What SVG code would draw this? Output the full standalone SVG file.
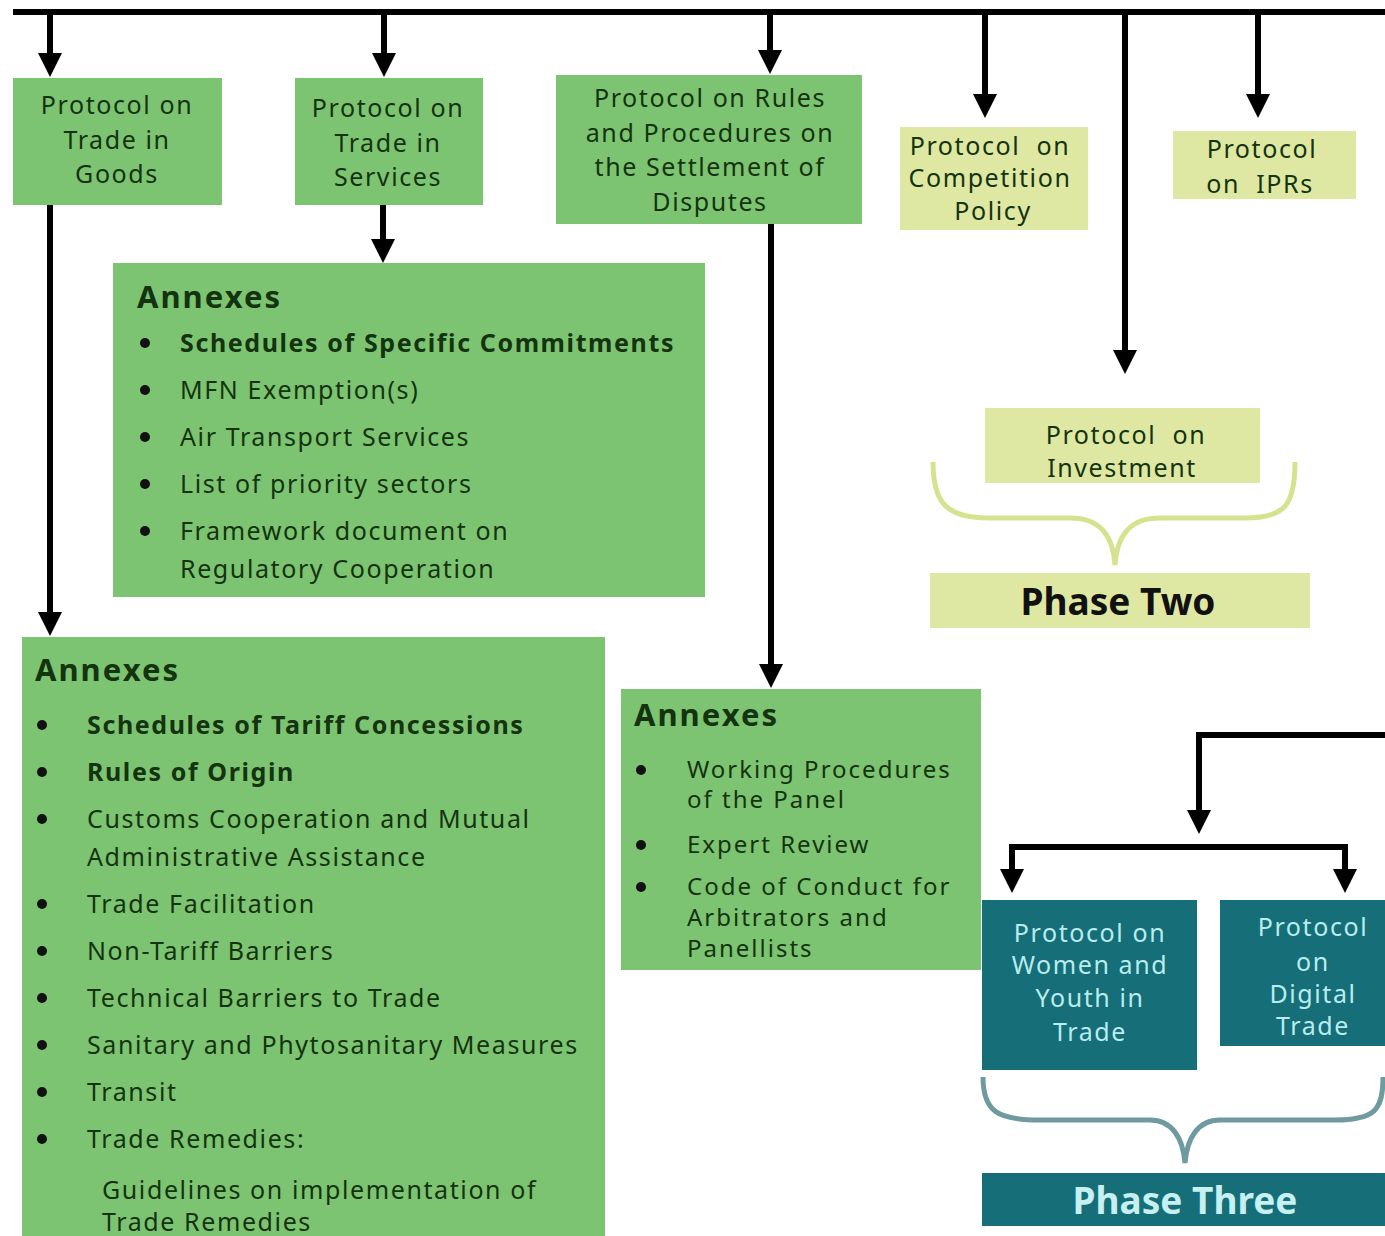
<svg xmlns="http://www.w3.org/2000/svg" width="1385" height="1236" viewBox="0 0 1385 1236">
<style>
.g{fill:#7dc472}
.y{fill:#dfe8a2}
.t{fill:#156e78}
.tx{font-family:"Noto Sans","Open Sans",sans-serif;font-size:25px;letter-spacing:1.6px;fill:#14330f}
.c{text-anchor:middle}
.b{font-weight:bold}
.sm{font-size:24px;letter-spacing:2px}
.h{font-family:"Noto Sans","Open Sans",sans-serif;font-size:31px;letter-spacing:2px;font-weight:bold;fill:#14330f}
.ph{font-family:"Noto Sans","Open Sans",sans-serif;font-size:37px;font-weight:bold;text-anchor:middle}
.lt{font-family:"Noto Sans","Open Sans",sans-serif;font-size:25px;letter-spacing:1.6px;fill:#b9ecee;text-anchor:middle}
.ln{stroke:#000;stroke-width:6;fill:none}
.ar{stroke:#000;stroke-width:6;fill:none;marker-end:url(#ah)}
.bul{fill:#111}
</style>
<defs>
<marker id="ah" markerUnits="userSpaceOnUse" markerWidth="24" markerHeight="24" refX="10" refY="12" orient="auto" viewBox="0 0 24 24">
<path d="M0,0 L24,12 L0,24 Z" fill="#000"/>
</marker>
</defs>
<rect width="1385" height="1236" fill="#fff"/>
<g id="connectors">
<line class="ln" x1="13" y1="12" x2="1385" y2="12"/>
<path class="ar" d="M50,12 V63"/>
<path class="ar" d="M384,12 V63"/>
<path class="ar" d="M770,12 V60"/>
<path class="ar" d="M985,12 V104"/>
<path class="ar" d="M1258,12 V104"/>
<path class="ar" d="M1125,12 V360"/>
<path class="ar" d="M383,205 V249"/>
<path class="ar" d="M50,205 V622"/>
<path class="ar" d="M771,224 V674"/>
<path class="ar" d="M1385,735 H1199 V820"/>
<path class="ln" d="M1012,870 V847 H1345 V870"/>
<path class="ar" d="M1012,847 V879"/>
<path class="ar" d="M1345,847 V879"/>
</g>
<g id="goods">
<rect class="g" x="13" y="78" width="209" height="127"/>
<text class="tx c" x="117" y="114">Protocol on</text>
<text class="tx c" x="117" y="149">Trade in</text>
<text class="tx c" x="117" y="183">Goods</text>
</g>
<g id="services">
<rect class="g" x="295" y="78" width="188" height="127"/>
<text class="tx c" x="388" y="117">Protocol on</text>
<text class="tx c" x="388" y="152">Trade in</text>
<text class="tx c" x="388" y="186">Services</text>
</g>
<g id="disputes">
<rect class="g" x="556" y="75" width="306" height="149"/>
<text class="tx c" x="710" y="107">Protocol on Rules</text>
<text class="tx c" x="710" y="142">and Procedures on</text>
<text class="tx c" x="710" y="176">the Settlement of</text>
<text class="tx c" x="710" y="211">Disputes</text>
</g>
<g id="competition">
<rect class="y" x="900" y="127" width="188" height="103"/>
<text class="tx c" x="990" y="155" xml:space="preserve">Protocol  on</text>
<text class="tx c" x="990" y="187">Competition</text>
<text class="tx c" x="993" y="220">Policy</text>
</g>
<g id="iprs">
<rect class="y" x="1173" y="131" width="183" height="68"/>
<text class="tx c" x="1262" y="158">Protocol</text>
<text class="tx c" x="1260" y="193" xml:space="preserve">on  IPRs</text>
</g>
<g id="investment">
<rect class="y" x="985" y="408" width="275" height="75"/>
<text class="tx c" x="1126" y="444" xml:space="preserve">Protocol  on</text>
<text class="tx c" x="1122" y="477">Investment</text>
</g>
<g id="phase-two">
<path d="M933,462 C933,505 948,518 990,518 L1070,518 C1100,518 1113,535 1115,565 C1117,535 1130,518 1160,518 L1245,518 C1285,518 1295,505 1295,462" fill="none" stroke="#d6e28e" stroke-width="5"/>
<rect class="y" x="930" y="573" width="380" height="55"/>
<text class="ph" x="1118" y="615" fill="#111">Phase Two</text>
</g>
<g id="services-annexes">
<rect class="g" x="113" y="263" width="592" height="334"/>
<text class="h" x="137" y="308">Annexes</text>
<circle class="bul" cx="145" cy="343" r="5"/>
<circle class="bul" cx="145" cy="390" r="5"/>
<circle class="bul" cx="145" cy="437" r="5"/>
<circle class="bul" cx="145" cy="484" r="5"/>
<circle class="bul" cx="145" cy="531" r="5"/>
<text class="tx b" x="180" y="352">Schedules of Specific Commitments</text>
<text class="tx" x="180" y="399">MFN Exemption(s)</text>
<text class="tx" x="180" y="446">Air Transport Services</text>
<text class="tx" x="180" y="493">List of priority sectors</text>
<text class="tx" x="180" y="540">Framework document on</text>
<text class="tx" x="180" y="578">Regulatory Cooperation</text>
</g>
<g id="goods-annexes">
<rect class="g" x="22" y="637" width="583" height="599"/>
<text class="h" x="35" y="681">Annexes</text>
<circle class="bul" cx="42" cy="725" r="5"/>
<circle class="bul" cx="42" cy="772" r="5"/>
<circle class="bul" cx="42" cy="819" r="5"/>
<circle class="bul" cx="42" cy="904" r="5"/>
<circle class="bul" cx="42" cy="951" r="5"/>
<circle class="bul" cx="42" cy="998" r="5"/>
<circle class="bul" cx="42" cy="1045" r="5"/>
<circle class="bul" cx="42" cy="1092" r="5"/>
<circle class="bul" cx="42" cy="1139" r="5"/>
<text class="tx b" x="87" y="734">Schedules of Tariff Concessions</text>
<text class="tx b" x="87" y="781">Rules of Origin</text>
<text class="tx" x="87" y="828">Customs Cooperation and Mutual</text>
<text class="tx" x="87" y="866">Administrative Assistance</text>
<text class="tx" x="87" y="913">Trade Facilitation</text>
<text class="tx" x="87" y="960">Non-Tariff Barriers</text>
<text class="tx" x="87" y="1007">Technical Barriers to Trade</text>
<text class="tx" x="87" y="1054">Sanitary and Phytosanitary Measures</text>
<text class="tx" x="87" y="1101">Transit</text>
<text class="tx" x="87" y="1148">Trade Remedies:</text>
<text class="tx" x="102" y="1199">Guidelines on implementation of</text>
<text class="tx" x="102" y="1231">Trade Remedies</text>
</g>
<g id="disputes-annexes">
<rect class="g" x="621" y="689" width="360" height="281"/>
<text class="h" x="634" y="726">Annexes</text>
<circle class="bul" cx="641" cy="770" r="5"/>
<circle class="bul" cx="641" cy="845" r="5"/>
<circle class="bul" cx="641" cy="887" r="5"/>
<text class="tx sm" x="687" y="778">Working Procedures</text>
<text class="tx sm" x="687" y="808">of the Panel</text>
<text class="tx sm" x="687" y="853">Expert Review</text>
<text class="tx sm" x="687" y="895">Code of Conduct for</text>
<text class="tx sm" x="687" y="926">Arbitrators and</text>
<text class="tx sm" x="687" y="957">Panellists</text>
</g>
<g id="women-youth">
<rect class="t" x="982" y="900" width="215" height="170"/>
<text class="lt" x="1090" y="942">Protocol on</text>
<text class="lt" x="1090" y="974">Women and</text>
<text class="lt" x="1090" y="1007">Youth in</text>
<text class="lt" x="1090" y="1041">Trade</text>
</g>
<g id="digital">
<rect class="t" x="1220" y="900" width="165" height="146"/>
<text class="lt" x="1313" y="936">Protocol</text>
<text class="lt" x="1313" y="971">on</text>
<text class="lt" x="1313" y="1003">Digital</text>
<text class="lt" x="1313" y="1035">Trade</text>
</g>
<g id="phase-three">
<path d="M983,1077 C983,1112 998,1120 1040,1120 L1150,1120 C1172,1120 1183,1138 1185,1163 C1187,1138 1198,1120 1220,1120 L1335,1120 C1375,1120 1383,1110 1383,1077" fill="none" stroke="#6f9a9f" stroke-width="5"/>
<rect class="t" x="982" y="1173" width="403" height="53"/>
<text class="ph" x="1185" y="1214" fill="#c6f0f2">Phase Three</text>
</g>
</svg>
